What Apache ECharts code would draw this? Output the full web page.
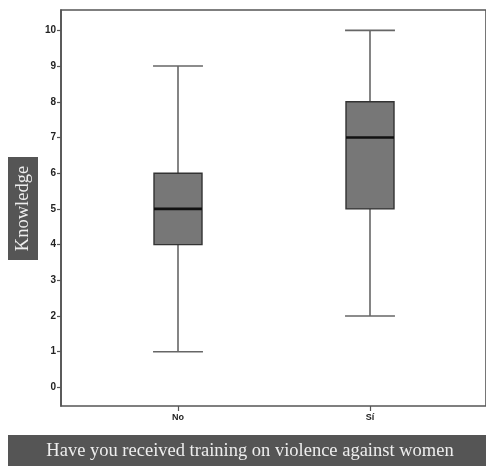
<!DOCTYPE html>
<html><head><meta charset="utf-8">
<script src="https://cdn.jsdelivr.net/npm/echarts@6/dist/echarts.min.js"></script>
<style>html,body{margin:0;padding:0;background:#fff}#c{width:486px;height:466px}</style>
</head><body><div id="c"></div>
<script>
const categories = ['No', 'Sí'];
const mins = [1, 2];
const q1s = [4, 5];
const medians = [5, 7];
const q3s = [6, 8];
const maxs = [9, 10];
const yTicks = [0,1,2,3,4,5,6,7,8,9,10];
const yTitle = 'Knowledge';
const xTitle = 'Have you received training on violence against women';

const data = categories.map((c, i) => [i, mins[i], q1s[i], medians[i], q3s[i], maxs[i]]);
const chart = echarts.init(document.getElementById('c'));
const axisCol = '#555';
chart.setOption({
  animation: false,
  grid: [
    {left: 61, top: 10, bottom: 60, right: -4, show: true, borderColor: axisCol, borderWidth: 1.6, backgroundColor: 'transparent'},
    {left: 82, top: 10, bottom: 60, width: 384}
  ],
  xAxis: [
    {type: 'value', gridIndex: 0, min: 0, max: 1, show: false},
    {type: 'category', gridIndex: 1, data: categories,
     axisLine: {show: false, onZero: false},
     axisTick: {show: true, alignWithLabel: true, length: 5, lineStyle: {color: axisCol, width: 1.2}, interval: 0},
     axisLabel: {color: '#222', fontFamily: 'Liberation Sans, Arial', fontWeight: 'bold', fontSize: 9, margin: 7}}
  ],
  yAxis: [
    {type: 'value', gridIndex: 0, min: -0.52, max: 10.57,
     axisLine: {show: true, onZero: false, lineStyle: {color: axisCol, width: 1.6}},
     axisTick: {show: true, length: 4, customValues: yTicks, lineStyle: {color: axisCol, width: 1.2}},
     splitLine: {show: false},
     axisLabel: {color: '#222', fontFamily: 'Liberation Sans, Arial', fontWeight: 'bold', fontSize: 10, margin: 5,
       customValues: yTicks, formatter: v => String(Math.round(v))}},
    {type: 'value', gridIndex: 1, min: -0.52, max: 10.57, show: false}
  ],
  series: [{
    type: 'custom', xAxisIndex: 1, yAxisIndex: 1, data: data,
    encode: {x: 0, y: [1, 2, 3, 4, 5]},
    renderItem: function (params, api) {
      const x = api.value(0);
      const band = api.size([1, 0])[0];
      const bw = band * 0.25, cw = band * 0.13;
      const pMin = api.coord([x, api.value(1)]);
      const pQ1 = api.coord([x, api.value(2)]);
      const pMed = api.coord([x, api.value(3)]);
      const pQ3 = api.coord([x, api.value(4)]);
      const pMax = api.coord([x, api.value(5)]);
      const cx = pMin[0];
      const ws = {stroke: '#666', lineWidth: 1.6};
      return {type: 'group', children: [
        {type: 'line', shape: {x1: cx, y1: pMin[1], x2: cx, y2: pQ1[1]}, style: ws},
        {type: 'line', shape: {x1: cx, y1: pQ3[1], x2: cx, y2: pMax[1]}, style: ws},
        {type: 'line', shape: {x1: cx - cw, y1: pMin[1], x2: cx + cw, y2: pMin[1]}, style: ws},
        {type: 'line', shape: {x1: cx - cw, y1: pMax[1], x2: cx + cw, y2: pMax[1]}, style: ws},
        {type: 'rect', shape: {x: cx - bw / 2, y: pQ3[1], width: bw, height: pQ1[1] - pQ3[1]},
         style: {fill: '#777', stroke: '#333', lineWidth: 1.4}},
        {type: 'line', shape: {x1: cx - bw / 2, y1: pMed[1], x2: cx + bw / 2, y2: pMed[1]},
         style: {stroke: '#111', lineWidth: 2.6}}
      ]};
    }
  }],
  graphic: [
    {type: 'rect', left: 8, top: 157, shape: {width: 30, height: 103}, style: {fill: '#555'}},
    {type: 'text', x: 23, y: 208.5, rotation: Math.PI / 2,
     style: {text: yTitle, fill: '#eee', font: '18.5px "Liberation Serif", "DejaVu Serif", serif', textAlign: 'center', textVerticalAlign: 'middle'}},
    {type: 'rect', left: 8, top: 435, shape: {width: 480, height: 31}, style: {fill: '#555'}},
    {type: 'text', x: 250, y: 451,
     style: {text: xTitle, fill: '#eee', font: '18.5px "Liberation Serif", "DejaVu Serif", serif', textAlign: 'center', textVerticalAlign: 'middle'}}
  ]
});
</script></body></html>
